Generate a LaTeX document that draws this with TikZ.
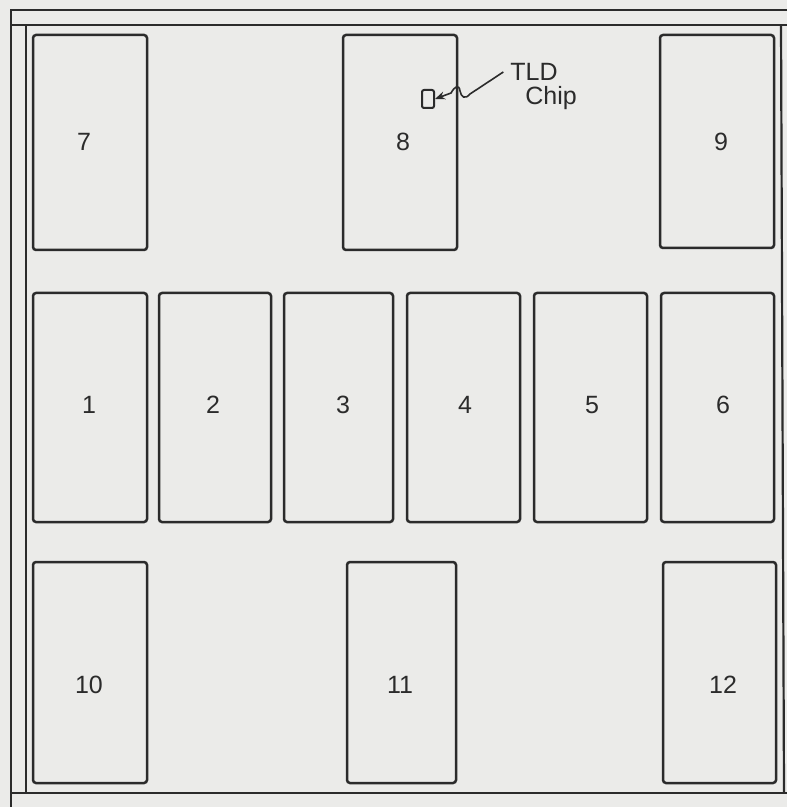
\documentclass[tikz,border=0pt]{standalone}
\usepackage{fontspec}
\setsansfont{Liberation Sans}
\usetikzlibrary{arrows.meta}
\definecolor{PaperGray}{HTML}{EBEBE9}
\definecolor{InkGray}{HTML}{2B2B2B}
\tikzset{
  tray/.style={draw=InkGray, line width=1.25pt, rounded corners=1.5pt},
  frame/.style={InkGray, line width=1.1pt},
  leader/.style={InkGray, line width=0.8pt, -{Stealth[length=5pt,width=4pt]}}
}
\begin{document}
\begin{tikzpicture}[x=0.5pt, y=-0.5pt, every node/.style={font=\sffamily\fontsize{12.5}{15}\selectfont, text=InkGray}]
  \fill[PaperGray] (0,0) rectangle (787,807);
  \useasboundingbox (0,0) rectangle (787,807);

  \draw[frame] (787,10) -- (11,10) -- (11,807);
  \draw[frame] (11,25) -- (787,25);
  \draw[frame] (11,793) -- (787,793);
  \draw[frame] (26,25) -- (26,793);
  \draw[frame] (781,25) -- (784,793);

  \draw[tray] (33,35) rectangle (147,250);
  \draw[tray] (343,35) rectangle (457,250);
  \draw[tray] (660,35) rectangle (774,248);

  \draw[tray] (33,293) rectangle (147,522);
  \draw[tray] (159,293) rectangle (271,522);
  \draw[tray] (284,293) rectangle (393,522);
  \draw[tray] (407,293) rectangle (520,522);
  \draw[tray] (534,293) rectangle (647,522);
  \draw[tray] (661,293) rectangle (774,522);

  \draw[tray] (33,562) rectangle (147,783);
  \draw[tray] (347,562) rectangle (456,783);
  \draw[tray] (663,562) rectangle (776,783);

  \node (n7) at (84,142) {7};
  \node (n8) at (403,142) {8};
  \node (n9) at (721,142) {9};
  \node (n1) at (89,405) {1};
  \node (n2) at (213,405) {2};
  \node (n3) at (343,405) {3};
  \node (n4) at (465,405) {4};
  \node (n5) at (592,405) {5};
  \node (n6) at (723,405) {6};
  \node (n10) at (89,685) {10};
  \node (n11) at (400,685) {11};
  \node (n12) at (723,685) {12};

  \node[draw=InkGray, line width=1pt, rounded corners=1pt, minimum width=6pt,
    minimum height=9pt, inner sep=0pt] (chip) at (428,99) {};
  \node (tld) at (534,72) {TLD};
  \node (chiplbl) at (551,98) {Chip};
  \draw[leader] (tld.west) -- (470,94) .. controls (465,100) and (461,97) ..
  (460,91) .. controls (459,84) and (455,86) .. (451,93) -- (chip.east);
\end{tikzpicture}
\end{document}
